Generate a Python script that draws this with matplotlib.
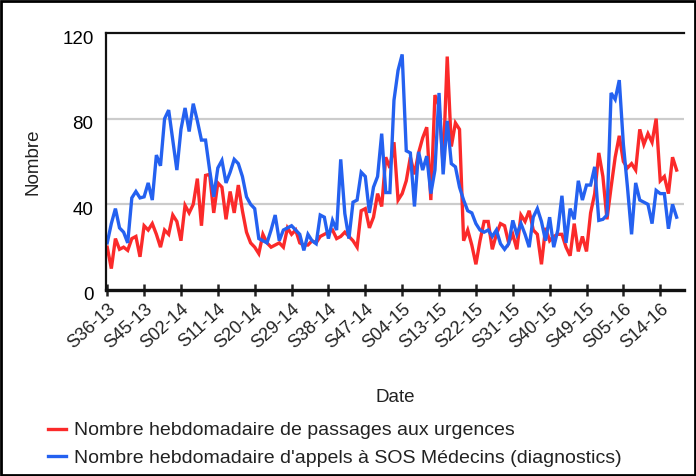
import matplotlib
matplotlib.use("Agg")
import matplotlib.pyplot as plt
from matplotlib.patches import Rectangle
from matplotlib.transforms import ScaledTranslation
import numpy as np

plt.rcParams['font.family'] = ['Liberation Sans', 'DejaVu Sans']

# Weekly counts, S36-13 .. S18-16
urgences = [
    20, 10, 24, 19, 20, 18.5, 24, 25, 15.5, 30,
    28, 31, 26, 20, 28, 26, 35, 32, 23, 39.5,
    36, 40, 52, 30, 53.5, 54, 36, 50, 48, 33,
    46, 36, 49, 37, 27, 22, 20, 17, 26, 22,
    20, 21, 22, 20, 29, 26, 28, 22, 21, 21,
    23, 22, 25, 26, 27, 28, 24, 25, 27, 25,
    23, 20, 37, 38, 29, 34, 45, 39, 62, 57,
    69, 42, 45, 51, 62, 54, 64, 71, 76, 42,
    91, 86, 58, 109, 67, 78, 75, 23, 28, 21,
    12, 23, 32, 32, 19, 26, 31, 30, 22, 26,
    19, 35, 32, 37, 28, 26, 12, 29, 23, 25,
    26, 26, 20, 16, 31, 18, 25, 18, 36, 45,
    64, 53, 33, 48, 62, 72, 60, 57, 59, 56,
    75, 68, 73, 69, 80, 51, 53, 45, 62, 56,
]
sos_medecins = [
    22, 31, 38, 29, 27, 22, 43, 46, 43, 43.5,
    50, 42, 63, 58, 80, 84, 70, 56, 75, 85,
    74, 87, 79, 70, 70, 56, 43.5, 57, 60.5, 50,
    55, 61, 59, 53, 43.5, 40, 38, 24, 23, 22,
    28, 35, 23, 28, 29, 30, 28, 26, 18.5, 26,
    23, 21.6, 35, 34, 24, 32.5, 28, 61, 35.7, 24,
    41, 42, 55, 53, 36, 48, 53, 73, 45.5, 45.5,
    88.6, 102.6, 110, 65, 64, 39, 64.5, 56, 62.5, 45,
    56, 92, 54, 79, 59, 57.5, 48, 42, 37, 36,
    31, 28, 27, 28, 25, 28, 21.6, 19, 21.6, 32.5,
    26, 31, 26, 20, 34, 38, 32, 23, 34, 20,
    28, 44, 22, 38, 33, 51, 42, 49, 49, 57.5,
    32.5, 33, 35, 92, 89, 98, 68, 48, 26, 50,
    42, 41, 40, 31, 46.5, 45, 45, 28.6, 40, 34,
]
tick_labels = ["S36-13", "S45-13", "S02-14", "S11-14", "S20-14", "S29-14",
               "S38-14", "S47-14", "S04-15", "S13-15", "S22-15", "S31-15",
               "S40-15", "S49-15", "S05-16", "S14-16"]
y_ticks = [0, 40, 80, 120]

red = '#fb2a2a'
blue = '#2461f0'
text_col = '#222222'

fig = plt.figure(figsize=(6.96, 4.76), dpi=100)
ax = fig.add_axes([106 / 696, 1 - 290 / 476, 578 / 696, 257 / 476])

weeks = np.arange(len(urgences))
ax.plot(weeks, urgences, color=red, lw=2.4, solid_joinstyle='miter',
        label="Nombre hebdomadaire de passages aux urgences")
ax.plot(weeks, sos_medecins, color=blue, lw=2.4, solid_joinstyle='miter',
        label="Nombre hebdomadaire d'appels à SOS Médecins (diagnostics)")

ax.set_xlim(-0.3, 140.8)
ax.set_ylim(0, 120)
ax.set_yticks(y_ticks)
ax.set_yticklabels([str(v) for v in y_ticks], fontsize=13.5, color='black')
ax.tick_params(axis='y', length=0, pad=9)
for lbl in ax.get_yticklabels():
    lbl.set_transform(lbl.get_transform() + ScaledTranslation(0, -4 / 100, fig.dpi_scale_trans))

ax.set_xticks(weeks[::9][:len(tick_labels)])
ax.set_xticklabels(tick_labels, rotation=42, ha='right', va='top',
                   rotation_mode='anchor', fontsize=13, color=text_col)
ax.tick_params(axis='x', direction='inout', length=9, width=1.8, color='#222222', pad=3)

for y in [40, 80]:
    ax.axhline(y, color='#cccccc', lw=1.6, zorder=0)

ax.spines['right'].set_visible(False)
ax.spines['top'].set_linewidth(1.6)
ax.spines['left'].set_linewidth(1.6)
ax.spines['bottom'].set_linewidth(2.4)
for side in ['top', 'left', 'bottom']:
    ax.spines[side].set_color('#111111')

ax.set_ylabel("Nombre", fontsize=13.5, color=text_col)
ax.yaxis.set_label_coords(-0.112, 0.5)
ax.set_xlabel("Date", fontsize=13.5, color=text_col)
ax.xaxis.set_label_coords(0.5, -0.385)

fig.legend(loc='upper left', bbox_to_anchor=(38 / 696, 1 - 412 / 476),
           frameon=False, fontsize=14, handlelength=0.95, handletextpad=0.4,
           labelspacing=0.5, borderpad=0, labelcolor=text_col)

fig.patches.append(Rectangle((0.002, 0.003), 0.996, 0.994, transform=fig.transFigure,
                             fill=False, edgecolor='black', lw=2))

fig.savefig("out.png", dpi=100)
